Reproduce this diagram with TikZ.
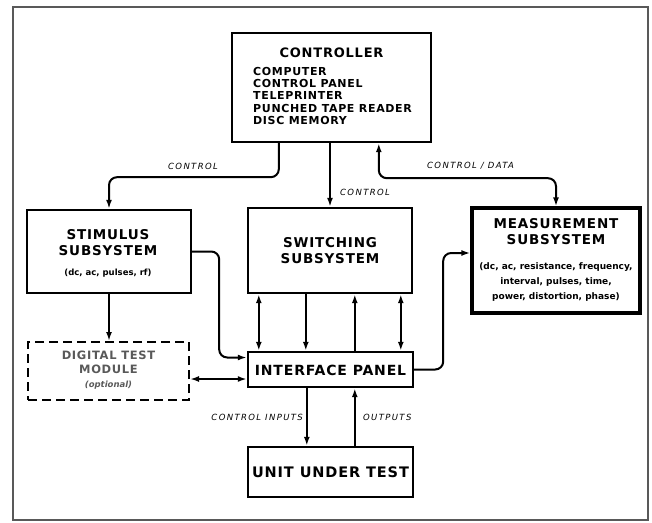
\documentclass[tikz,border=0pt]{standalone}
\usepackage{fontspec}
\setmainfont{DejaVu Sans}
\newfontfamily\lblfont[LetterSpace=16]{DejaVu Sans}
\newfontfamily\boldwide[LetterSpace=6]{DejaVu Sans}
\usetikzlibrary{arrows.meta}
\begin{document}
\begin{tikzpicture}[x=1pt,y=-1pt,
  box/.style={draw, line width=2.4pt, inner sep=0pt},
  conn/.style={line width=2pt, rounded corners=8pt},
  >={Latex[length=9pt,width=6pt]},
  title/.style={font=\boldwide\fontsize{13.5}{16}\selectfont\bfseries, align=center, inner sep=0pt},
  listtxt/.style={font=\boldwide\fontsize{11}{12.3}\selectfont\bfseries, align=left, inner sep=0pt},
  small/.style={font=\fontsize{8.5}{15}\selectfont\bfseries, align=center, inner sep=0pt},
  lbl/.style={font=\lblfont\fontsize{8.5}{10}\selectfont\itshape, inner sep=0pt}
]
\useasboundingbox (0,0) rectangle (652,522);
\draw[gray!70!black, line width=1.5pt] (13,7) rectangle (648,520);

% boxes
\node[box, minimum width=199pt, minimum height=109pt] (ctrl) at (331.5,87.5) {};
\node[title, font=\boldwide\fontsize{13}{16}\selectfont\bfseries] (ctrltitle) at (331.5,53) {CONTROLLER};
\node[listtxt, anchor=north west] (ctrllist) at (253,67) {COMPUTER\\CONTROL PANEL\\TELEPRINTER\\PUNCHED TAPE READER\\DISC MEMORY};

\node[box, minimum width=164pt, minimum height=83pt] (stim) at (109,251.5) {};
\node[title] (stimtitle) at (108,243) {STIMULUS\\SUBSYSTEM};
\node[small] (stimsub) at (108,273) {(dc, ac, pulses, rf)};

\node[box, minimum width=164pt, minimum height=85pt] (sw) at (330,250.5) {};
\node[title] (swtitle) at (330,250.5) {SWITCHING\\SUBSYSTEM};

\node[box, line width=3.2pt, minimum width=168pt, minimum height=105pt] (meas) at (556,260.5) {};
\node[title] (meastitle) at (556,231.5) {MEASUREMENT\\SUBSYSTEM};
\node[small, font=\fontsize{9}{15}\selectfont\bfseries] (meassub) at (556,282) {(dc, ac, resistance, frequency,\\interval, pulses, time,\\power, distortion, phase)};

\node[draw, dash pattern=on 9pt off 5pt, line width=2pt, inner sep=0pt, minimum width=161pt, minimum height=58pt] (dig) at (108.5,371) {};
\node[title, text=black!65, font=\boldwide\fontsize{11.5}{14}\selectfont\bfseries] (digtitle) at (108.5,362) {DIGITAL TEST\\MODULE};
\node[small, text=black!65, font=\fontsize{8.5}{10}\selectfont\bfseries\itshape] (digsub) at (108.5,385) {(optional)};

\node[box, minimum width=165pt, minimum height=35pt] (intf) at (330.5,369.5) {};
\node[title, font=\boldwide\fontsize{14}{16}\selectfont\bfseries] (intftitle) at (330.5,370) {INTERFACE PANEL};

\node[box, minimum width=165pt, minimum height=50pt] (uut) at (330.5,472) {};
\node[title, font=\boldwide\fontsize{14.5}{16}\selectfont\bfseries] (uuttitle) at (330.5,472) {UNIT UNDER TEST};

% connectors from controller
\draw[conn,->] ([xshift=48]ctrl.south west) -- ++(0,34) -| (stim.north);
\draw[conn,->] (ctrl.south -| sw.north) -- (sw.north);
\draw[conn,<->] ([xshift=148]ctrl.south west) -- ++(0,35) -| (meas.north);

% stimulus
\draw[conn,->] (stim.south) -- (stim.south |- dig.north);
\draw[conn,->] (stim.east) -- ++(27,0) |- ([yshift=12]intf.west);
\draw[conn,<->] ([yshift=-8]dig.east) -- ([yshift=-8]dig.east -| intf.west);

% switching <-> interface
\draw[conn,<->] ([xshift=12]sw.south west) -- ([xshift=12]sw.south west |- intf.north);
\draw[conn,->] ([xshift=59]sw.south west) -- ([xshift=59]sw.south west |- intf.north);
\draw[conn,<-] ([xshift=108]sw.south west) -- ([xshift=108]sw.south west |- intf.north);
\draw[conn,<->] ([xshift=154]sw.south west) -- ([xshift=154]sw.south west |- intf.north);

% interface -> measurement
\draw[conn,->] (intf.east) -- ++(29,0) |- ([yshift=7.5]meas.west);

% interface <-> UUT
\draw[conn,->] ([xshift=60]intf.south west) -- ([xshift=60]intf.south west |- uut.north);
\draw[conn,<-] ([xshift=108]intf.south west) -- ([xshift=108]intf.south west |- uut.north);

% labels
\node[lbl] (l1) at (193,166) {CONTROL};
\node[lbl, anchor=west] (l2) at (340,192) {CONTROL};
\node[lbl, anchor=west] (l3) at (427,166) {CONTROL / DATA};
\node[lbl, anchor=east] (l4) at (303,417) {CONTROL INPUTS};
\node[lbl, anchor=west] (l5) at (363,417) {OUTPUTS};
\end{tikzpicture}
\end{document}
